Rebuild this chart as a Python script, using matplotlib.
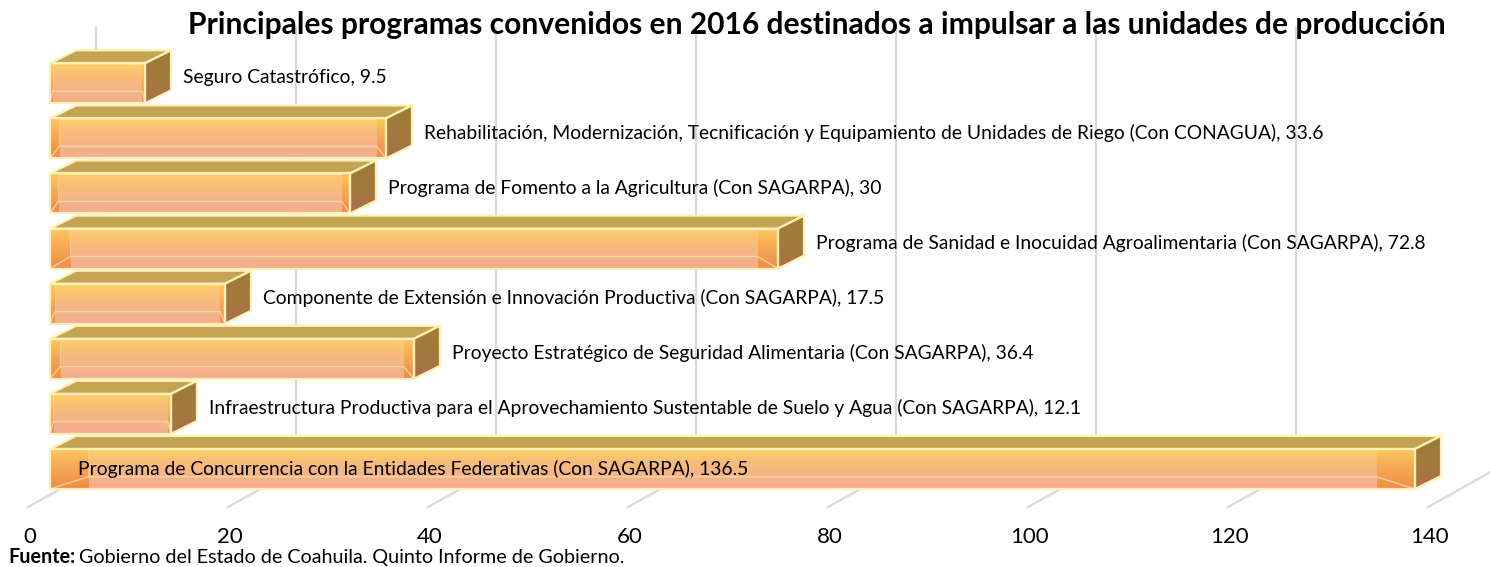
import numpy as np
import matplotlib.pyplot as plt
from matplotlib.patches import Polygon
from matplotlib.colors import LinearSegmentedColormap

# data, bottom bar first
programas = [
    "Programa de Concurrencia con la Entidades Federativas (Con SAGARPA)",
    "Infraestructura Productiva para el Aprovechamiento Sustentable de Suelo y Agua (Con SAGARPA)",
    "Proyecto Estratégico de Seguridad Alimentaria (Con SAGARPA)",
    "Componente de Extensión e Innovación Productiva (Con SAGARPA)",
    "Programa de Sanidad e Inocuidad Agroalimentaria (Con SAGARPA)",
    "Programa de Fomento a la Agricultura (Con SAGARPA)",
    "Rehabilitación, Modernización, Tecnificación y Equipamiento de Unidades de Riego (Con CONAGUA)",
    "Seguro Catastrófico",
]
valores = [136.5, 12.1, 36.4, 17.5, 72.8, 30, 33.6, 9.5]
ticks = [0, 20, 40, 60, 80, 100, 120, 140]

titulo = "Principales programas convenidos en 2016 destinados a impulsar a las unidades de producción"
fuente = "Gobierno del Estado de Coahuila. Quinto Informe de Gobierno."

plt.rcParams['font.family'] = ['Lato', 'DejaVu Sans']

W, H = 1490, 567
fig = plt.figure(figsize=(W / 100, H / 100), dpi=100)
ax = fig.add_axes([0, 0, 1, 1])

# fake 3d geometry (value units / category units)
X0 = 2.0          # front face start
BH = 0.726        # front face height
DX, DY = 2.6, 0.236   # depth offset of the box
FLOOR_Y = -0.69   # front edge of the floor
WALL_DX = 6.8     # floor depth to back wall
TOP_Y = 8.0

grid_c = "#d9d9d9"
for t in ticks:
    ax.plot([t - 0.2, t - 0.2 + WALL_DX], [FLOOR_Y, 0], color=grid_c, lw=1.6, zorder=0)
    ax.plot([t - 0.2 + WALL_DX] * 2, [0, TOP_Y], color=grid_c, lw=1.6, zorder=0)
    ax.text(t, -1.234, str(t), ha='center', va='center', fontsize=16, color='black')

cm_front = LinearSegmentedColormap.from_list("front", ["#f3ae8c", "#f5b488", "#f8bd78", "#ffd168"])
cm_strip = LinearSegmentedColormap.from_list("strip", ["#ee8e48", "#f6a653", "#ffc95e"])
cm_side = LinearSegmentedColormap.from_list("side", ["#aa704b", "#a37a3c", "#9c7c36"])
grad = np.linspace(0, 1, 64).reshape(-1, 1)
edge_c = "#fff0b8"

bars = ax.barh(range(len(valores)), valores, left=X0, height=BH, color="none",
               edgecolor=edge_c, linewidth=1.6, zorder=5)

for i, (bar, v) in enumerate(zip(bars, valores)):
    x1 = X0 + v
    yb, yt = i - BH / 2, i + BH / 2
    z = 2 + i * 0.01
    # front face gradient
    im = ax.imshow(grad, extent=[X0, x1, yb, yt], origin='lower', aspect='auto',
                   cmap=cm_front, zorder=z)
    im.set_clip_path(bar)
    # end strips
    sw = 0.028 * v
    for sx in (X0, x1 - sw):
        ims = ax.imshow(grad, extent=[sx, sx + sw, yb, yt], origin='lower', aspect='auto',
                        cmap=cm_strip, zorder=z + 0.001)
        ims.set_clip_path(bar)
    # inner edges of the box seen through the front
    ax.plot([X0, X0 + sw, x1 - sw, x1], [yb, yb + 0.22, yb + 0.22, yb],
            color="#fcdcae", lw=1, alpha=0.8, zorder=z + 0.002)
    ax.plot([X0 + sw] * 2, [yb + 0.22, yt], color="#fcdcae", lw=0.8, alpha=0.6, zorder=z + 0.002)
    # top face
    top = Polygon([(X0, yt), (x1, yt), (x1 + DX, yt + DY), (X0 + DX, yt + DY)],
                  closed=True, facecolor="#c3a452", edgecolor=edge_c, lw=1.6, zorder=z)
    ax.add_patch(top)
    # side face
    side = Polygon([(x1, yb), (x1 + DX, yb + DY), (x1 + DX, yt + DY), (x1, yt)],
                   closed=True, facecolor="none", edgecolor=edge_c, lw=1.6, zorder=z + 0.003)
    ax.add_patch(side)
    ims = ax.imshow(grad, extent=[x1, x1 + DX, yb, yt + DY], origin='lower', aspect='auto',
                    cmap=cm_side, zorder=z + 0.002)
    ims.set_clip_path(side)

    etiqueta = f"{programas[i]}, {v:g}"
    if v > 100:
        ax.text(X0 + 2.8, i, etiqueta, ha='left', va='center', fontsize=13.9, zorder=10)
    else:
        ax.text(x1 + 3.8, i + 0.1, etiqueta, ha='left', va='center', fontsize=13.9, zorder=10)

ax.set_xlim(-3.0, 146.0)
ax.set_ylim(-1.779, 8.512)
ax.axis('off')

fig.text(817 / W, 1 - 25 / H, titulo, ha='center', va='center', fontsize=21.6, weight='bold')
f1 = fig.text(8 / W, 1 - 557 / H, "Fuente:", ha='left', va='center', fontsize=14.2, weight='bold')
fig.canvas.draw()
bb = f1.get_window_extent()
fig.text((bb.x1 + 4) / W, 1 - 557 / H, fuente, ha='left', va='center', fontsize=14.2)

fig.savefig("out.png", dpi=100)
